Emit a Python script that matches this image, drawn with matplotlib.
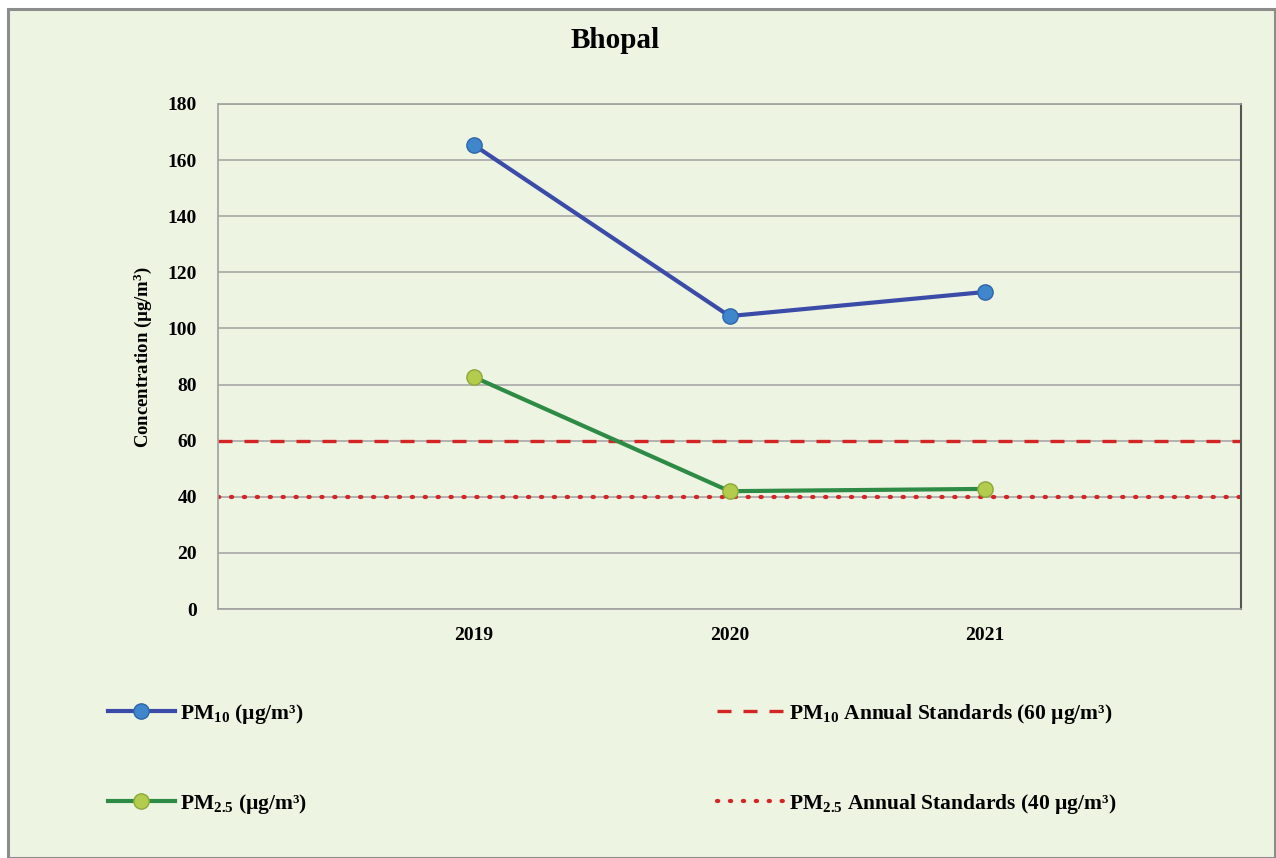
import matplotlib
matplotlib.use("Agg")
import matplotlib.pyplot as plt
from matplotlib.lines import Line2D
from matplotlib.patches import Rectangle

years = ["2019", "2020", "2021"]
pm10 = [165.4, 104.4, 113.0]
pm25 = [82.7, 42.0, 42.8]
std_pm10 = 60
std_pm25 = 40
yticks = [0, 20, 40, 60, 80, 100, 120, 140, 160, 180]

plt.rcParams['font.family'] = ['Liberation Serif', 'DejaVu Serif']
plt.rcParams['font.weight'] = 'bold'
plt.rcParams['mathtext.fontset'] = 'custom'
plt.rcParams['mathtext.rm'] = 'Liberation Serif:bold'
plt.rcParams['mathtext.bf'] = 'Liberation Serif:bold'
plt.rcParams['mathtext.it'] = 'Liberation Serif:bold'

BG = '#EEF4E2'
W, H = 1276, 858
fig = plt.figure(figsize=(W/100, H/100), dpi=100, facecolor='white')
fig.patches.append(Rectangle((8/W, 0), (1275-8)/W, (H-9)/H, transform=fig.transFigure,
                             facecolor=BG, edgecolor='#8C8C8C', linewidth=2.2, zorder=-10))

ax = fig.add_axes([218/W, 1-609/H, (1241-218)/W, (609-104)/H])
ax.set_zorder(5)
ax.set_facecolor(BG)
x = [1, 2, 3]
ax.set_xlim(0, 4)
ax.set_ylim(0, 180)
ax.set_yticks(yticks)
ax.set_xticks(x)
ax.set_xticklabels(years)
ax.tick_params(axis='both', length=0, labelsize=14)
ax.tick_params(axis='y', pad=15)
ax.tick_params(axis='x', pad=13)
for lab in ax.get_xticklabels() + ax.get_yticklabels():
    lab.set_fontweight('bold')
ax.grid(axis='y', color='#A8A8A8', linewidth=1.2)
ax.set_axisbelow(True)
for s in ['left', 'bottom', 'top']:
    ax.spines[s].set_color('#A0A0A0')
    ax.spines[s].set_linewidth(1.2)
ax.spines['right'].set_color('#555555')
ax.spines['right'].set_linewidth(1.5)

ax.axhline(std_pm10, color='#D42424', lw=2.4, dashes=(4.2, 3.6), zorder=2)
ax.axhline(std_pm25, color='#D42424', lw=3.0, dashes=(0.3, 2.8), dash_capstyle='round', zorder=2)

ax.plot(x, pm10, color='#3B4BA8', lw=3, marker='o', markersize=11,
        markerfacecolor='#3F86CC', markeredgecolor='#2F65A8', markeredgewidth=1, zorder=4)
ax.plot(x, pm25, color='#2E8B45', lw=3, marker='o', markersize=11,
        markerfacecolor='#B3CC4E', markeredgecolor='#8CA83A', markeredgewidth=1, zorder=4)

ax.set_ylabel(r'Concentration (µg/m$^{3}$)', fontsize=13.5, fontweight='bold', labelpad=10)

fig.text(615/W, 1-40/H, 'Bhopal', fontsize=21, fontweight='bold', ha='center', va='center')

h1 = Line2D([], [], color='#3B4BA8', lw=3, marker='o', markersize=11,
            markerfacecolor='#3F86CC', markeredgecolor='#2F65A8')
h2 = Line2D([], [], color='#2E8B45', lw=3, marker='o', markersize=11,
            markerfacecolor='#B3CC4E', markeredgecolor='#8CA83A')
h3 = Line2D([], [], color='#D42424', lw=2.4, dashes=(4.2, 3.6))
h4 = Line2D([], [], color='#D42424', lw=3.0, dashes=(0.3, 2.8), dash_capstyle='round')

lab1 = r'PM$_{10}$ (µg/m³)'
lab2 = r'PM$_{2.5}$ (µg/m³)'
lab3 = r'PM$_{10}$ Annual Standards (60 µg/m³)'
lab4 = r'PM$_{2.5}$ Annual Standards (40 µg/m³)'

kw = dict(loc='upper left', frameon=False, fontsize=15.5, handlelength=3.1,
          handletextpad=0.25, labelspacing=3.05, borderaxespad=0, borderpad=0)
leg1 = fig.legend([h1, h2], [lab1, lab2], bbox_to_anchor=(108/W, 1-702/H), **kw)
leg2 = fig.legend([h3, h4], [lab3, lab4], bbox_to_anchor=(717/W, 1-702/H), **kw)

fig.savefig('out.png', dpi=100, facecolor='white')
